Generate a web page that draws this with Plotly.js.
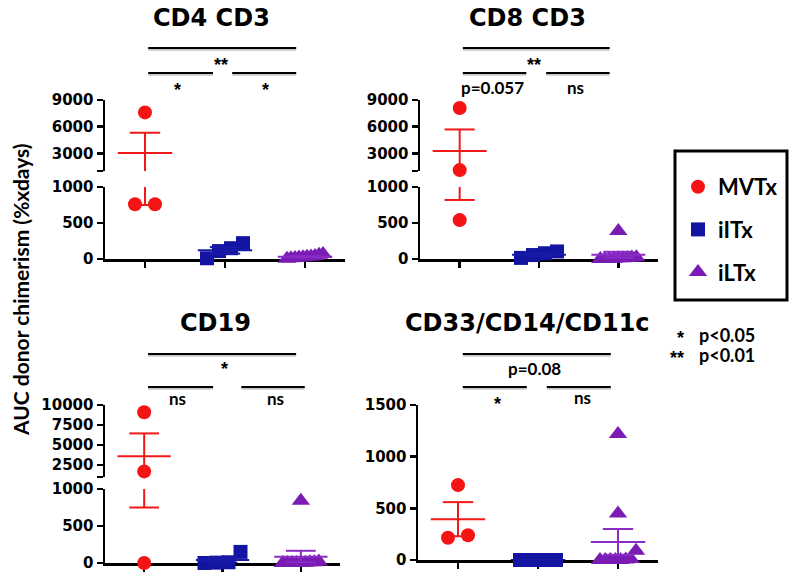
<!DOCTYPE html>
<html>
<head>
<meta charset="utf-8">
<script src="https://cdn.plot.ly/plotly-3.0.1.min.js"></script>
<style>html,body{margin:0;padding:0;background:#fff}#chart{width:800px;height:582px}</style>
</head>
<body>
<div id="chart"></div>
<script>
// ---------------- DATA ----------------
const categories = ['MVTx', 'iITx', 'iLTx'];
const panelTitles = ['CD4 CD3', 'CD8 CD3', 'CD19', 'CD33/CD14/CD11c'];

const cd4_MVTx = [7600, 760, 760];
const cd4_iITx = [150, 10, 110, 220];
const cd4_iLTx = [10, 40, 25, 70, 15, 30, 60, 5, 20, 35];
const cd4_mean = [3030, 120, 30];
const cd4_sem = [2280, 45, 8];

const cd8_MVTx = [8100, 1100, 540];
const cd8_iITx = [80, 15, 55, 105];
const cd8_iLTx = [390, 10, 0, 20, 5, 15, 0, 10, 25, 5];
const cd8_mean = [3250, 60, 60];
const cd8_sem = [2430, 20, 40];

const cd19_MVTx = [9100, 1700, 0];
const cd19_iITx = [0, 5, 10, 150];
const cd19_iLTx = [840, 0, 10, 0, 20, 0, 5, 0, 10, 0];
const cd19_mean = [3600, 40, 85];
const cd19_sem = [2850, 35, 80];

const cd33_MVTx = [725, 215, 240];
const cd33_iITx = [0, 0, 0, 0];
const cd33_iLTx = [1220, 450, 90, 0, 10, 0, 5, 0, 0, 0];
const cd33_mean = [395, 0, 175];
const cd33_sem = [165, 0, 125];

const lowTickVals = [0, 500, 1000];
const lowTickText = ['0', '500', '1000'];
const upTickVals9k = [1000, 3000, 6000, 9000];
const upTickText9k = ['', '3000', '6000', '9000'];
const upTickVals10k = [1000, 2500, 5000, 7500, 10000];
const upTickText10k = ['', '2500', '5000', '7500', '10000'];
const cd33TickVals = [0, 500, 1000, 1500];
const cd33TickText = ['0', '500', '1000', '1500'];

const sigTop = ['**', '**', '*', 'p=0.08'];
const sigLeft = ['*', 'p=0.057', 'ns', '*'];
const sigRight = ['*', 'ns', 'ns', 'ns'];

const yAxisTitle = 'AUC donor chimerism (%xdays)';
const keyStars = ['*', '**'];
const keyText = ['p<0.05', 'p<0.01'];

// ---------------- STYLE / GEOMETRY ----------------
const W = 800, H = 582;
const fx = px => px / W;
const fy = px => 1 - px / H;
const XR = [-0.5, 2.5];
const COLORS = ['#f41414', '#1414a2', '#7a1cb4'];
const LINECOLORS = ['#f01818', '#1a1aa8', '#8a2cc6'];
const SYMBOLS = ['circle', 'square', 'triangle-up'];
const SIZES = [14, 14, 16];
const TICKFONT = {family: 'DejaVu Sans', size: 15, color: '#000', weight: 700};
const TITLEFONT = {family: 'DejaVu Sans', size: 24, color: '#000', weight: 700};
const LABFONT = {family: 'Lato', size: 17, color: '#000', weight: 700};
const STARFONT = {family: 'Liberation Sans', size: 18, color: '#000', weight: 700};

const GEOM = [
  {x: [105, 345], low: {px: [259, 187], range: [0, 1000]}, up: {px: [171, 100], range: [1000, 9000]},
   title: [211, 18], br: {top: [0.04, 1.89, 48], left: [0.04, 0.85, 73], right: [1.09, 1.89, 73],
   tTop: [0.95, 65], tLeft: [0.40, 90], tRight: [1.51, 90]}},
  {x: [420, 658], low: {px: [259, 187], range: [0, 1000]}, up: {px: [171, 100], range: [1000, 9000]},
   title: [527, 18], br: {top: [0.04, 1.89, 48], left: [0.04, 0.84, 73], right: [1.09, 1.89, 73],
   tTop: [0.94, 65], tLeft: [0.41, 87], tRight: [1.46, 87]}},
  {x: [105, 340], low: {px: [563, 489], range: [0, 1000]}, up: {px: [477, 405], range: [1000, 10000]},
   title: [215, 323], br: {top: [0.05, 1.94, 354], left: [0.05, 0.88, 387], right: [1.24, 2.05, 387],
   tTop: [1.02, 369], tLeft: [0.42, 398], tRight: [1.68, 398]}},
  {x: [418, 658], low: {px: [560, 405], range: [0, 1500]}, up: null,
   title: [527, 323], br: {top: [0.06, 1.91, 354], left: [0.06, 0.86, 387], right: [1.11, 1.91, 387],
   tTop: [0.96, 368], tLeft: [0.49, 404], tRight: [1.55, 397]}}
];

const panels = [
  {groups: [cd4_MVTx, cd4_iITx, cd4_iLTx], mean: cd4_mean, sem: cd4_sem,
   low: [lowTickVals, lowTickText], up: [upTickVals9k, upTickText9k]},
  {groups: [cd8_MVTx, cd8_iITx, cd8_iLTx], mean: cd8_mean, sem: cd8_sem,
   low: [lowTickVals, lowTickText], up: [upTickVals9k, upTickText9k]},
  {groups: [cd19_MVTx, cd19_iITx, cd19_iLTx], mean: cd19_mean, sem: cd19_sem,
   low: [lowTickVals, lowTickText], up: [upTickVals10k, upTickText10k]},
  {groups: [cd33_MVTx, cd33_iITx, cd33_iLTx], mean: cd33_mean, sem: cd33_sem,
   low: [cd33TickVals, cd33TickText], up: null}
];

// scatter-dot spreading (rows of near-equal values are centred side by side)
const ROW_GAP = 16, ROW_SP = 20, ROW_MAX = 36;
function swarm(py) {
  const order = py.map((v, j) => j).sort((a, b) => py[b] - py[a]);
  const offs = py.map(() => 0);
  let row = [], rowStart = 0;
  const flush = () => {
    const m = row.length;
    const sp = m > 1 ? Math.min(ROW_SP, ROW_MAX / (m - 1)) : 0;
    row.forEach((j, r) => { offs[j] = (r - (m - 1) / 2) * sp; });
    row = [];
  };
  order.forEach(j => {
    if (row.length && Math.abs(py[j] - rowStart) >= ROW_GAP) flush();
    if (!row.length) rowStart = py[j];
    row.push(j);
  });
  flush();
  return offs;
}

const traces = [];
const layout = {
  width: W, height: H,
  margin: {l: 0, r: 0, t: 0, b: 0},
  paper_bgcolor: '#fff', plot_bgcolor: 'rgba(0,0,0,0)',
  showlegend: true,
  legend: {x: fx(678), y: fy(166), xanchor: 'left', yanchor: 'top',
           font: {family: 'Lato', size: 22, color: '#000', weight: 700},
           bgcolor: 'rgba(0,0,0,0)', borderwidth: 0, tracegroupgap: 11,
           itemsizing: 'trace', traceorder: 'grouped'},
  annotations: [], shapes: [],
  hovermode: false
};

function axisBase() {
  return {showline: true, linewidth: 2.5, linecolor: '#000', ticks: 'outside', ticklen: 6,
          tickwidth: 2.5, tickcolor: '#000', showgrid: false, zeroline: false,
          layer: 'below traces', fixedrange: true, tickfont: TICKFONT, tickmode: 'array'};
}

let yCount = 0;
const MW = 0.34, CW = 0.19;
panels.forEach((p, k) => {
  const g = GEOM[k];
  const xName = k === 0 ? 'x' : 'x' + (k + 1);
  const xKey = k === 0 ? 'xaxis' : 'xaxis' + (k + 1);
  const segs = g.up ? [g.low, g.up] : [g.low];
  const ticks = g.up ? [p.low, p.up] : [p.low];
  const yNames = segs.map(() => { yCount++; return yCount === 1 ? 'y' : 'y' + yCount; });

  segs.forEach((s, si) => {
    const key = yNames[si].replace('y', 'yaxis');
    layout[key] = Object.assign(axisBase(), {
      domain: [fy(s.px[0]), fy(s.px[1])], range: s.range, anchor: xName,
      tickvals: ticks[si][0], ticktext: ticks[si][1]
    });
  });
  layout[xKey] = Object.assign(axisBase(), {
    domain: [fx(g.x[0]), fx(g.x[1])], range: XR, anchor: yNames[0],
    tickvals: [0, 1, 2], ticktext: categories, showticklabels: false
  });

  const brk = g.low.range[1];
  const yPx = v => {
    const s = (g.up && v > brk) ? g.up : g.low;
    return s.px[0] + (v - s.range[0]) / (s.range[1] - s.range[0]) * (s.px[1] - s.px[0]);
  };
  const pxPerUnit = (g.x[1] - g.x[0]) / (XR[1] - XR[0]);

  p.groups.forEach((vals, i) => {
    const offs = swarm(vals.map(yPx));
    segs.forEach((s, si) => {
      const idx = vals.map((v, j) => j).filter(j => (si === 0) ? !(g.up && vals[j] > brk) : vals[j] > brk);
      traces.push({
        type: 'scatter', mode: 'markers', xaxis: xName, yaxis: yNames[si],
        x: idx.map(j => i + offs[j] / pxPerUnit), y: idx.map(j => vals[j]),
        marker: {symbol: SYMBOLS[i], size: SIZES[i], color: COLORS[i], line: {width: 0}},
        cliponaxis: false, name: categories[i], legendgroup: categories[i],
        showlegend: k === 0 && si === 0, hoverinfo: 'skip'
      });
    });
  });

  segs.forEach((s, si) => {
    p.groups.forEach((vals, i) => {
      const m = p.mean[i], e = p.sem[i];
      traces.push({
        type: 'scatter', mode: 'lines', xaxis: xName, yaxis: yNames[si],
        x: [i - MW, i + MW, null, i, i, null, i - CW, i + CW, null, i - CW, i + CW],
        y: [m, m, null, m - e, m + e, null, m + e, m + e, null, m - e, m - e],
        line: {color: LINECOLORS[i], width: 2}, showlegend: false, hoverinfo: 'skip'
      });
    });
  });

  // panel title
  layout.annotations.push({text: panelTitles[k], xref: 'paper', yref: 'paper',
    x: fx(g.title[0]), y: fy(g.title[1]), showarrow: false, font: TITLEFONT,
    xanchor: 'center', yanchor: 'middle'});

  // significance brackets
  ['top', 'left', 'right'].forEach(b => {
    const [a0, a1, yy] = g.br[b];
    layout.shapes.push({type: 'line', xref: xName, yref: 'paper', x0: a0, x1: a1,
      y0: fy(yy + 1.5), y1: fy(yy + 1.5), line: {color: 'rgba(0,0,0,0.22)', width: 2.5}});
    layout.shapes.push({type: 'line', xref: xName, yref: 'paper', x0: a0, x1: a1,
      y0: fy(yy), y1: fy(yy), line: {color: '#000', width: 2.2}});
  });
  const labs = [[sigTop[k], g.br.tTop], [sigLeft[k], g.br.tLeft], [sigRight[k], g.br.tRight]];
  labs.forEach(([t, pos]) => {
    const star = /^\*+$/.test(t);
    layout.annotations.push({text: t, xref: xName, yref: 'paper', x: pos[0], y: fy(pos[1]),
      showarrow: false, font: star ? STARFONT : LABFONT, xanchor: 'center', yanchor: 'middle'});
  });
});

// y-axis title
layout.annotations.push({text: yAxisTitle, xref: 'paper', yref: 'paper', x: fx(20), y: fy(290),
  textangle: -90, showarrow: false, font: {family: 'Lato', size: 21, color: '#000', weight: 700},
  xanchor: 'center', yanchor: 'middle'});

// legend frame
layout.shapes.push({type: 'rect', xref: 'paper', yref: 'paper', x0: fx(675), x1: fx(787),
  y0: fy(300), y1: fy(151), line: {color: '#000', width: 3}});

// significance key
keyStars.forEach((s, j) => {
  const yy = j === 0 ? 335 : 355;
  layout.annotations.push({text: s, xref: 'paper', yref: 'paper', x: fx(686), y: fy(yy + 3),
    showarrow: false, font: STARFONT, xanchor: 'right', yanchor: 'middle'});
  layout.annotations.push({text: keyText[j], xref: 'paper', yref: 'paper', x: fx(697), y: fy(yy),
    showarrow: false, font: {family: 'Lato', size: 18, color: '#000', weight: 700},
    xanchor: 'left', yanchor: 'middle'});
});

Plotly.newPlot('chart', traces, layout, {displayModeBar: false, staticPlot: true});
</script>
</body>
</html>
